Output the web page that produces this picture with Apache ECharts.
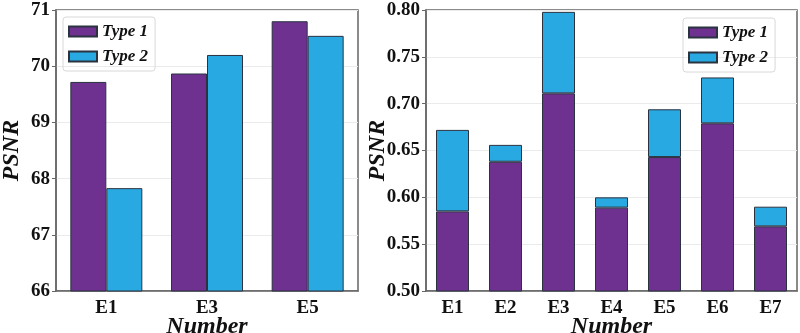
<!DOCTYPE html>
<html><head><meta charset="utf-8">
<script src="https://cdn.jsdelivr.net/npm/echarts@6/dist/echarts.min.js"></script>
<style>html,body{margin:0;padding:0;background:#fff}#c{width:800px;height:333px}</style>
</head><body><div id="c"></div>
<script>
const leftCategories = ['E1','E3','E5'];
const leftType1 = [69.72, 69.87, 70.80];
const leftType2 = [67.83, 70.20, 70.54];
const leftTicks = {min:66, max:71, interval:1};

const rightCategories = ['E1','E2','E3','E4','E5','E6','E7'];
const rightType1 = [0.585, 0.638, 0.711, 0.589, 0.643, 0.679, 0.569];
const rightType2 = [0.087, 0.018, 0.087, 0.011, 0.051, 0.049, 0.021];
const rightTicks = {min:0.50, max:0.80, interval:0.05};

const PURPLE = '#6f3190', BLUE = '#29a9e1', EDGE = '#2b3340';
const FONT = '"Liberation Serif","Times New Roman",serif';
const chart = echarts.init(document.getElementById('c'), null, {renderer:'canvas'});

function xAxis(gi, cats){
  return {type:'category', gridIndex:gi, data:cats, boundaryGap:true,
    name:'Number', nameLocation:'middle', nameGap:24, nameMoveOverlap:false,
    nameTextStyle:{fontFamily:FONT, fontWeight:'bold', fontStyle:'italic', fontSize:24, color:'#111', verticalAlign:'top'},
    axisLine:{lineStyle:{color:'#666', width:1.5}},
    axisTick:{alignWithLabel:true, length:4, lineStyle:{color:'#666'}},
    axisLabel:{fontFamily:FONT, fontWeight:'bold', fontSize:19, color:'#111', margin:8}};
}
function yAxis(gi, t, dec, gap){
  return {type:'value', gridIndex:gi, min:t.min, max:t.max, interval:t.interval,
    name:'PSNR', nameLocation:'middle', nameGap:gap, nameMoveOverlap:false,
    nameTextStyle:{fontFamily:FONT, fontWeight:'bold', fontStyle:'italic', fontSize:24, color:'#111'},
    axisLine:{show:true, lineStyle:{color:'#666', width:1.5}},
    axisTick:{show:true, length:4, lineStyle:{color:'#666'}},
    splitLine:{show:true, lineStyle:{color:'#ebebeb', width:1}},
    axisLabel:{fontFamily:FONT, fontWeight:'bold', fontSize:19, color:'#111', margin:6,
      formatter: v => v.toFixed(dec)}};
}
function legend(left, top){
  return {left:left, top:top, orient:'vertical', itemWidth:28, itemHeight:10, itemGap:8,
    icon:'rect',
    padding:[6,7,6,5], borderColor:'#d8d8d8', borderWidth:1, borderRadius:3,
    data:['Type 1','Type 2'],
    textStyle:{fontFamily:FONT, fontWeight:'bold', fontStyle:'italic', fontSize:17, color:'#111'}};
}
const barStyle = c => ({color:c, borderColor:EDGE, borderWidth:1});

chart.setOption({
  animation:false,
  grid:[
    {left:56, right:442, top:10, bottom:42, show:true, borderColor:'#666', borderWidth:1.5, outerBoundsMode:'none', containLabel:false},
    {left:426, right:3, top:10, bottom:42, show:true, borderColor:'#666', borderWidth:1.5, outerBoundsMode:'none', containLabel:false}
  ],
  legend:[legend(63,17), legend(683,18)],
  xAxis:[xAxis(0,leftCategories), xAxis(1,rightCategories)],
  yAxis:[yAxis(0,leftTicks,0,32), yAxis(1,rightTicks,2,36)],
  series:[
    {name:'Type 1', type:'bar', xAxisIndex:0, yAxisIndex:0, data:leftType1, barWidth:36, barGap:'0%', itemStyle:barStyle(PURPLE)},
    {name:'Type 2', type:'bar', xAxisIndex:0, yAxisIndex:0, data:leftType2, barWidth:36, barGap:'0%', itemStyle:barStyle(BLUE)},
    {name:'Type 1', type:'bar', xAxisIndex:1, yAxisIndex:1, stack:'s', data:rightType1, barWidth:33, itemStyle:barStyle(PURPLE)},
    {name:'Type 2', type:'bar', xAxisIndex:1, yAxisIndex:1, stack:'s', data:rightType2, barWidth:33, itemStyle:barStyle(BLUE)}
  ]
});
</script></body></html>
